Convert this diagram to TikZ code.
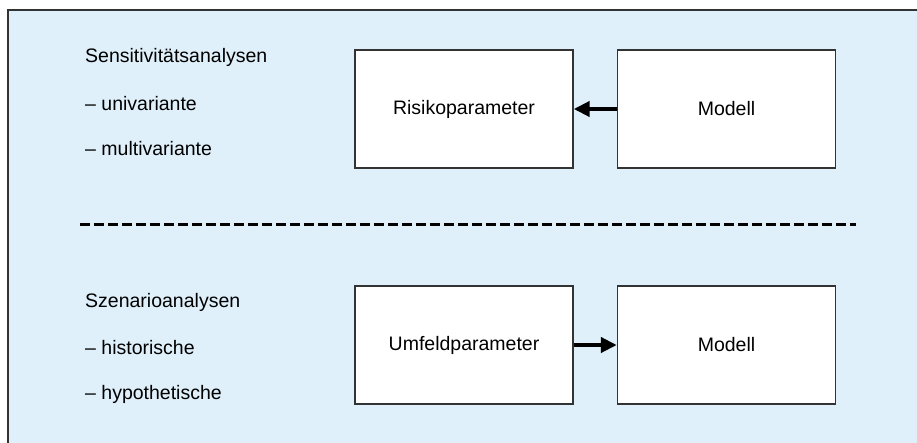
\documentclass[tikz,border=0pt]{standalone}
\usepackage{fontspec}
\setmainfont{Liberation Sans}
\usetikzlibrary{arrows.meta}
\definecolor{panelbg}{HTML}{DFF0FA}
\definecolor{edge}{HTML}{333333}
\begin{document}
\begin{tikzpicture}[x=1pt,y=-1pt,
  lbl/.style={anchor=west,inner sep=0pt,font=\fontsize{19.5}{22}\selectfont,text=black},
  blk/.style={draw=edge,line width=1.4pt,fill=white,minimum width=218pt,minimum height=118pt,inner sep=0pt,font=\fontsize{19.5}{22}\selectfont,text=black},
  flow/.style={line width=4pt,-{Triangle[length=16pt,width=15pt]}},
  sep/.style={line width=3pt,dash pattern=on 9.5pt off 4.5pt}]
\useasboundingbox (0,0) rectangle (917,442);
\clip (0,0) rectangle (917,442);
\draw[fill=panelbg,draw=edge,line width=1.6pt] (8,10) rectangle (940,470);
\node[lbl] (t1) at (85,57) {Sensitivitätsanalysen};
\node[lbl] (t2) at (85,104) {– univariante};
\node[lbl] (t3) at (85,149) {– multivariante};
\node[lbl] (s1) at (85,302) {Szenarioanalysen};
\node[lbl] (s2) at (85,348) {– historische};
\node[lbl] (s3) at (85,394) {– hypothetische};
\node[blk] (rp) at (464,109) {Risikoparameter};
\node[blk] (m1) at (726.5,109) {Modell};
\node[blk] (up) at (464,345) {Umfeldparameter};
\node[blk] (m2) at (726.5,345) {Modell};
\draw[flow] (m1.west) -- (rp.east);
\draw[flow] (up.east) -- (m2.west);
\coordinate (d1) at (80,224);
\coordinate (d2) at (856,224);
\draw[sep] (d1) -- (d2);
\end{tikzpicture}
\end{document}
